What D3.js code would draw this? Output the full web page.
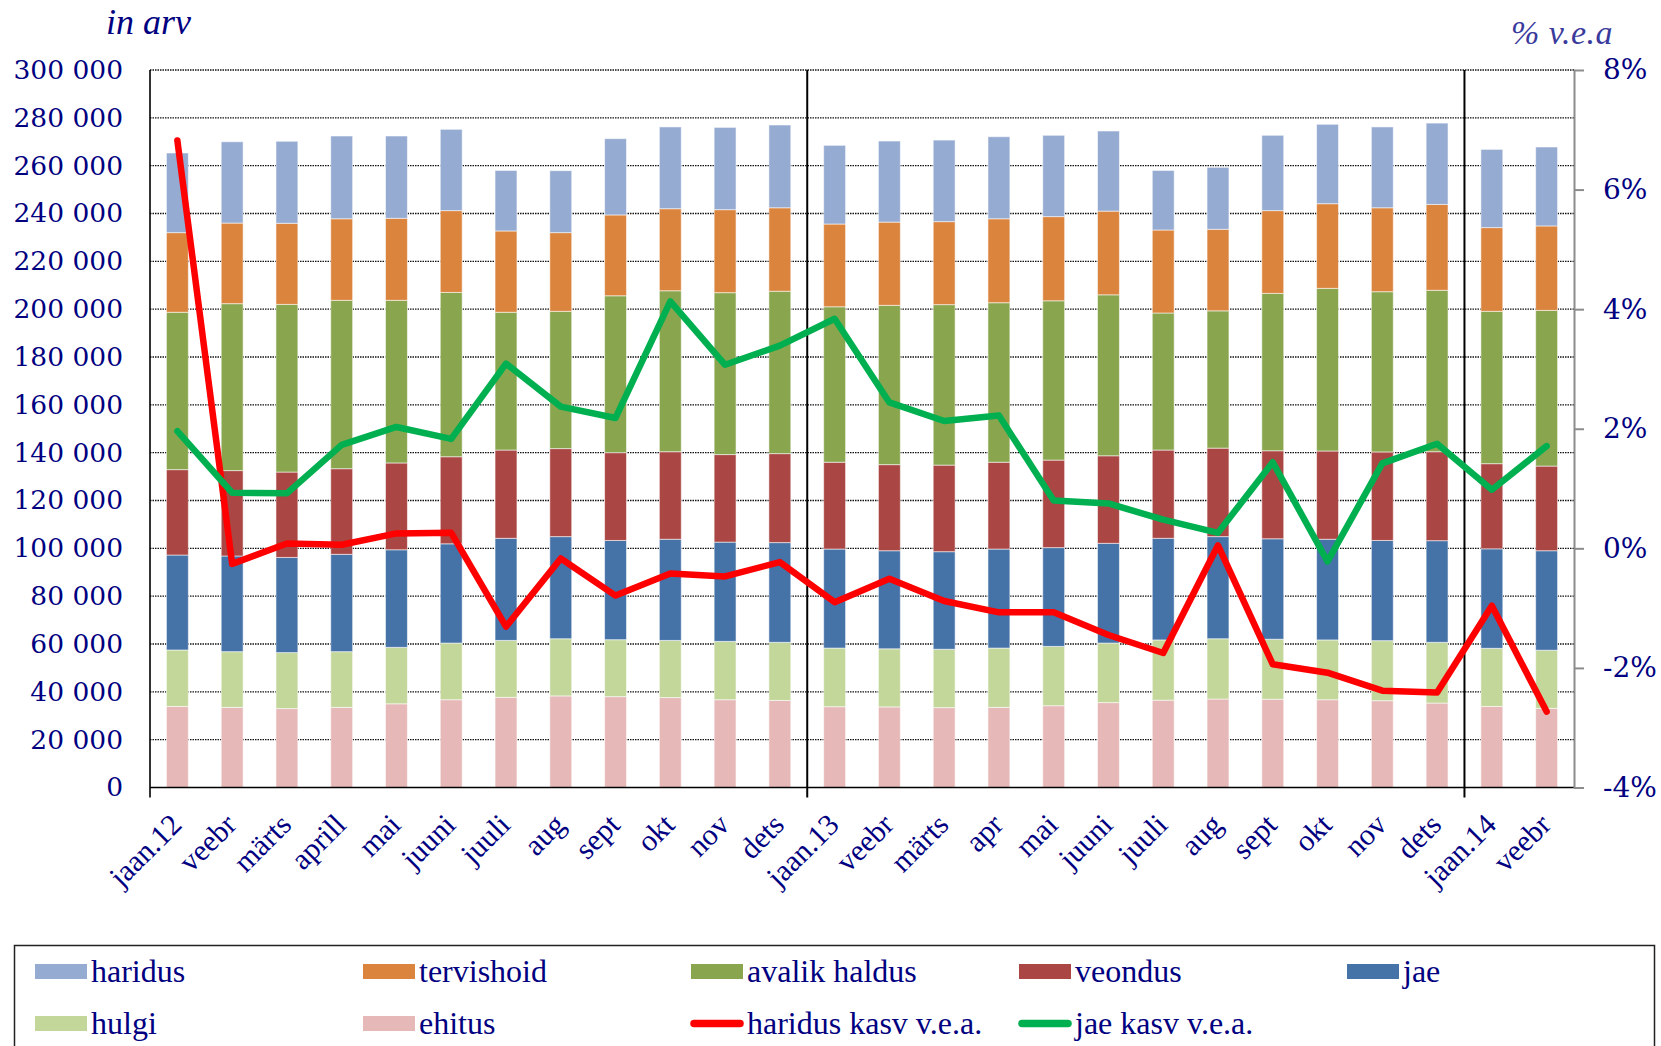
<!DOCTYPE html>
<html>
<head>
<meta charset="utf-8">
<script src="https://cdn.jsdelivr.net/npm/d3@7"></script>
<style>
  html, body { margin: 0; padding: 0; background: #fff; }
  svg { display: block; }
</style>
</head>
<body>
<svg id="chart" width="1661" height="1046"></svg>
<script>
// ---------- DATA ----------
const categories = ["jaan.12","veebr","märts","aprill","mai","juuni","juuli","aug","sept","okt","nov","dets",
                    "jaan.13","veebr","märts","apr","mai","juuni","juuli","aug","sept","okt","nov","dets",
                    "jaan.14","veebr"];

const ehitus     = [33900,33500,33000,33500,35000,36700,37700,38300,38000,37600,36700,36400,
                    33800,33700,33400,33500,34200,35500,36500,37000,36900,36700,36300,35300,33900,33100];
const hulgi      = [23600,23300,23400,23300,23600,23700,23800,23900,23800,23900,24400,24300,
                    24500,24300,24400,24800,24800,24900,25200,25200,25100,25000,25100,25400,24300,24300];
const jae        = [39700,40000,39800,40700,40800,41500,42700,42700,41500,42300,41500,41700,
                    41400,41000,40800,41400,41300,41700,42500,42700,42000,42100,41900,42500,41600,41600];
const veondus    = [35700,35700,35700,35800,36300,36400,36900,36800,36700,36600,36600,37200,
                    36300,36000,36200,36300,36600,36600,36900,37000,36800,36900,37000,37200,35600,35400];
const avalikHaldus = [65800,69800,70100,70400,68000,68700,57600,57400,65600,67300,67700,67900,
                    65000,66600,67100,66700,66600,67300,57300,57400,65800,68000,67000,67500,63700,65100];
const tervishoid = [33300,33700,33900,34100,34300,34200,34000,32900,33800,34300,34700,34900,
                    34600,34800,34700,35100,35200,35000,34700,34100,34600,35400,35100,35900,35000,35300];
const haridus    = [33300,34000,34300,34600,34400,34000,25300,25900,31900,34200,34400,34600,
                    32900,33900,34100,34300,34000,33500,24900,25900,31500,33200,33800,34000,32700,33000];

const haridusKasv = [6.82,-0.26,0.08,0.06,0.25,0.26,-1.31,-0.17,-0.79,-0.42,-0.47,-0.23,
                     -0.90,-0.51,-0.88,-1.07,-1.07,-1.45,-1.75,0.05,-1.94,-2.08,-2.38,-2.41,-0.96,-2.73];
const jaeKasv     = [1.96,0.93,0.92,1.73,2.03,1.83,3.09,2.37,2.18,4.13,3.07,3.39,
                     3.84,2.44,2.13,2.22,0.80,0.75,0.48,0.26,1.44,-0.22,1.42,1.75,0.98,1.71];

const leftTicks  = [0,20000,40000,60000,80000,100000,120000,140000,160000,180000,200000,220000,240000,260000,280000,300000];
const rightTicks = [-4,-2,0,2,4,6,8];

// stacking order bottom -> top
const seriesKeys   = ["ehitus","hulgi","jae","veondus","avalik haldus","tervishoid","haridus"];
const seriesValues = [ehitus, hulgi, jae, veondus, avalikHaldus, tervishoid, haridus];
const seriesColors = ["#e6b9b8","#c4d79b","#4572a7","#aa4643","#89a54e","#db843d","#95abd2"];

const legendItems = [
  {name:"haridus", type:"bar", color:"#95abd2"},
  {name:"tervishoid", type:"bar", color:"#db843d"},
  {name:"avalik haldus", type:"bar", color:"#89a54e"},
  {name:"veondus", type:"bar", color:"#aa4643"},
  {name:"jae", type:"bar", color:"#4572a7"},
  {name:"hulgi", type:"bar", color:"#c4d79b"},
  {name:"ehitus", type:"bar", color:"#e6b9b8"},
  {name:"haridus kasv v.e.a.", type:"line", color:"#ff0000"},
  {name:"jae kasv v.e.a.", type:"line", color:"#00b050"}
];

// ---------- LAYOUT ----------
const navy = "#000080";
const plot = {left:150, right:1574, top:70, bottom:787.5};
const svg = d3.select("#chart");

const rows = categories.map((c, i) => {
  const r = {i};
  seriesKeys.forEach((k, j) => r[k] = seriesValues[j][i]);
  return r;
});

const x = d3.scaleBand().domain(d3.range(categories.length)).range([plot.left, plot.right]).paddingInner(0).paddingOuter(0);
const yL = d3.scaleLinear().domain([0, 300000]).range([plot.bottom, plot.top]);
const yR = d3.scaleLinear().domain([-4, 8]).range([plot.bottom, plot.top]);
const bw = x.bandwidth();
const barW = bw * 0.4;

// gridlines
svg.append("g").selectAll("line").data(leftTicks.filter(d => d > 0)).join("line")
  .attr("x1", plot.left).attr("x2", plot.right)
  .attr("y1", d => yL(d)).attr("y2", d => yL(d))
  .attr("stroke", "#111").attr("stroke-width", 1.3).attr("stroke-dasharray", "1.5,1");

// bars
const stack = d3.stack().keys(seriesKeys)(rows);
const gBars = svg.append("g");
stack.forEach((layer, li) => {
  gBars.append("g").attr("fill", seriesColors[li])
    .selectAll("rect").data(layer).join("rect")
    .attr("x", d => x(d.data.i) + (bw - barW) / 2)
    .attr("width", barW)
    .attr("y", d => yL(d[1]))
    .attr("height", d => yL(d[0]) - yL(d[1]))
    .attr("stroke", "rgba(255,255,255,0.55)").attr("stroke-width", 1);
});

// bottom axis line
svg.append("line").attr("x1", plot.left).attr("x2", plot.right)
  .attr("y1", plot.bottom).attr("y2", plot.bottom)
  .attr("stroke", "#000").attr("stroke-width", 1.6);

// left axis line (extends below)
svg.append("line").attr("x1", plot.left).attr("x2", plot.left)
  .attr("y1", plot.top).attr("y2", plot.bottom + 10)
  .attr("stroke", "#000").attr("stroke-width", 1.6);

// year separators
[12, 24].forEach(i => {
  svg.append("line").attr("x1", x(i)).attr("x2", x(i))
    .attr("y1", plot.top).attr("y2", plot.bottom + 10)
    .attr("stroke", "#000").attr("stroke-width", 2);
});

// left axis labels
const fmt = d3.formatLocale({decimal:",", thousands:" ", grouping:[3], currency:["",""]}).format(",");
const axL = svg.append("g").attr("transform", `translate(${plot.left},0)`)
  .call(d3.axisLeft(yL).tickValues(leftTicks).tickFormat(fmt).tickSize(0).tickPadding(27));
axL.select(".domain").remove();
axL.selectAll("text").attr("fill", navy).attr("font-family", "DejaVu Serif").attr("font-size", 26.5);

// right axis
const axR = svg.append("g").attr("transform", `translate(${plot.right},0)`)
  .call(d3.axisRight(yR).tickValues(rightTicks).tickFormat(d => d + "%").tickSize(10).tickSizeOuter(0).tickPadding(19));
axR.select(".domain").attr("stroke", "#8c8c8c").attr("stroke-width", 2);
axR.selectAll(".tick line").attr("stroke", "#8c8c8c").attr("stroke-width", 2);
axR.selectAll("text").attr("fill", navy).attr("font-family", "DejaVu Serif").attr("font-size", 28);

// bottom axis labels
const axB = svg.append("g").attr("transform", `translate(0,${plot.bottom})`)
  .call(d3.axisBottom(x).tickFormat(i => categories[i]).tickSize(0));
axB.select(".domain").remove();
axB.selectAll("text")
  .attr("fill", navy).attr("font-family", "Liberation Serif").attr("font-size", 30)
  .attr("text-anchor", "end").attr("dy", 0).attr("y", 0)
  .attr("transform", "translate(6,39) rotate(-45)");

// lines
const lineGen = d3.line().x((d, i) => x(i) + bw / 2).y(d => yR(d));
svg.append("path").datum(haridusKasv).attr("d", lineGen)
  .attr("fill", "none").attr("stroke", "#ff0000").attr("stroke-width", 6.5)
  .attr("stroke-linejoin", "round").attr("stroke-linecap", "round");
svg.append("path").datum(jaeKasv).attr("d", lineGen)
  .attr("fill", "none").attr("stroke", "#00b050").attr("stroke-width", 6.5)
  .attr("stroke-linejoin", "round").attr("stroke-linecap", "round");

// axis titles
svg.append("text").attr("x", 106).attr("y", 34).text("in arv")
  .attr("fill", navy).attr("font-family", "Liberation Serif").attr("font-style", "italic").attr("font-size", 36);
svg.append("text").attr("x", 1511).attr("y", 44).text("% v.e.a")
  .attr("fill", "#3a3a9c").attr("font-family", "Liberation Serif").attr("font-style", "italic").attr("font-size", 34)
  .attr("letter-spacing", 0.5);

// legend
svg.append("rect").attr("x", 14.5).attr("y", 945.5).attr("width", 1640).attr("height", 140)
  .attr("fill", "#fff").attr("stroke", "#222").attr("stroke-width", 1.5);
const legCols = [35, 363, 691, 1019, 1347];
const legRows = [971.5, 1023.5];
const lg = svg.append("g");
legendItems.forEach((it, k) => {
  const cx = legCols[k % 5], cy = legRows[Math.floor(k / 5)];
  if (it.type === "bar") {
    lg.append("rect").attr("x", cx).attr("y", cy - 7.5).attr("width", 52).attr("height", 15).attr("fill", it.color);
  } else {
    lg.append("line").attr("x1", cx + 3).attr("x2", cx + 49).attr("y1", cy).attr("y2", cy)
      .attr("stroke", it.color).attr("stroke-width", 7.5).attr("stroke-linecap", "round");
  }
  lg.append("text").attr("x", cx + 56).attr("y", cy + 10).text(it.name)
    .attr("fill", navy).attr("font-family", "Liberation Serif").attr("font-size", 32);
});
</script>
</body>
</html>
